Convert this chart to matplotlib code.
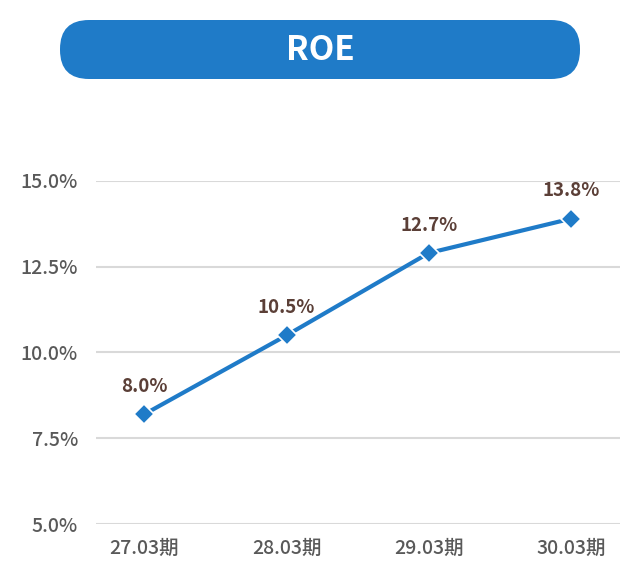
import matplotlib
matplotlib.use("Agg")
import matplotlib.pyplot as plt
from matplotlib.patches import FancyBboxPatch

plt.rcParams['font.family'] = ['Noto Sans CJK JP', 'DejaVu Sans']

# data
periods = ['27.03期', '28.03期', '29.03期', '30.03期']
roe = [8.2, 10.5, 12.9, 13.9]
roe_labels = ['8.0%', '10.5%', '12.7%', '13.8%']
yticks = [5.0, 7.5, 10.0, 12.5, 15.0]
title = 'ROE'

blue = '#1f7bc8'
fig = plt.figure(figsize=(6.4, 5.81), dpi=100)

# title banner, in pixel coords
bg = fig.add_axes([0, 0, 1, 1])
bg.set_xlim(0, 640)
bg.set_ylim(581, 0)
bg.axis('off')
bg.add_patch(FancyBboxPatch((60, 20), 520, 59,
                            boxstyle='round,pad=0,rounding_size=29',
                            fc=blue, ec='none'))
bg.text(320, 51, title, color='white', fontsize=24, fontweight='bold',
        ha='center', va='center')

ax = fig.add_axes([96 / 640, 1 - 524 / 581, 524 / 640, 343 / 581])
x = range(len(periods))
ax.plot(x, roe, color=blue, lw=3, marker='D', ms=10,
        mfc=blue, mec='white', mew=1.2, zorder=3)
for xi, v, lab in zip(x, roe, roe_labels):
    ax.annotate(lab, (xi, v), xytext=(0, 20), textcoords='offset points',
                ha='center', va='center', fontsize=13.5, fontweight='bold',
                color='#5b3f37')

ax.set_xlim(-0.34, 3.345)
ax.set_ylim(5, 15)
ax.set_yticks(yticks)
ax.set_yticklabels(['%.1f%%' % t for t in yticks], fontweight='medium')
ax.set_xticks(list(x))
ax.set_xticklabels(periods, fontweight='medium')
ax.grid(axis='y', color='#d9d9d9', lw=1.5)
ax.set_axisbelow(True)
for s in ax.spines.values():
    s.set_visible(False)
ax.tick_params(length=0, labelsize=14, labelcolor='#595959')
ax.tick_params(axis='y', pad=13)
ax.tick_params(axis='x', pad=11)

fig.savefig('out.png', dpi=100)
